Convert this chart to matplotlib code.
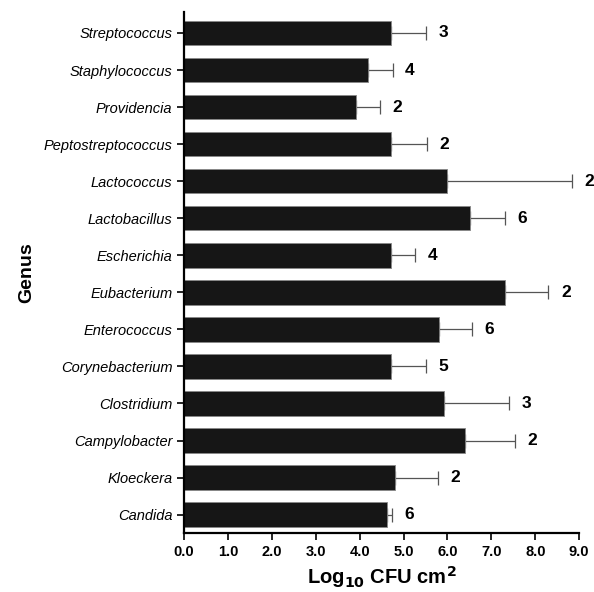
import matplotlib.pyplot as plt
import numpy as np

plt.rcParams['font.family'] = ['Liberation Sans', 'DejaVu Sans']

# Genera, top to bottom as in the figure
genus = ['Streptococcus', 'Staphylococcus', 'Providencia', 'Peptostreptococcus',
         'Lactococcus', 'Lactobacillus', 'Escherichia', 'Eubacterium',
         'Enterococcus', 'Corynebacterium', 'Clostridium', 'Campylobacter',
         'Kloeckera', 'Candida']
mean_log = [4.71, 4.20, 3.91, 4.71, 6.00, 6.51, 4.71, 7.30, 5.81, 4.71, 5.91, 6.40, 4.81, 4.62]
sd_log = [0.80, 0.55, 0.56, 0.83, 2.83, 0.80, 0.55, 1.00, 0.74, 0.79, 1.49, 1.13, 0.98, 0.11]
n_samples = [3, 4, 2, 2, 2, 6, 4, 2, 6, 5, 3, 2, 2, 6]

fig, ax = plt.subplots(figsize=(5.94, 5.92), dpi=100)
fig.subplots_adjust(left=0.31, right=0.975, top=0.98, bottom=0.1)

y = np.arange(len(genus))[::-1]
ax.errorbar(mean_log, y, xerr=[np.zeros(len(sd_log)), sd_log], fmt='none',
            ecolor='#555555', elinewidth=0.9, capsize=5, capthick=0.9, zorder=1)
ax.barh(y, mean_log, height=0.66, color='#161616', edgecolor='#888888',
        linewidth=0.6, zorder=2)

for yi, m, s, n in zip(y, mean_log, sd_log, n_samples):
    ax.annotate(str(n), (m + s, yi), xytext=(9, 0), textcoords='offset points',
                va='center', ha='left', fontsize=12.5, fontweight='bold',
                annotation_clip=False)

ax.set_xlim(0, 9)
ax.set_ylim(-0.49, len(genus) - 0.43)
ax.set_xticks(np.arange(0, 9.5, 1.0))
ax.set_xticklabels([f'{v:.1f}' for v in np.arange(0, 9.5, 1.0)], fontweight='bold', fontsize=10.5)
ax.set_yticks(y)
ax.set_yticklabels(genus, fontstyle='italic', fontsize=10.5)

for side in ['top', 'right']:
    ax.spines[side].set_visible(False)
for side in ['left', 'bottom']:
    ax.spines[side].set_linewidth(1.6)
ax.tick_params(axis='both', direction='out', width=1.2, length=5)

ax.set_ylabel('Genus', fontsize=14, fontweight='bold', labelpad=6)
ax.set_xlabel(r'Log$_{\mathbf{10}}$ CFU cm$^{\mathbf{2}}$', fontsize=14.5, fontweight='bold', labelpad=4)

plt.savefig('out.png', dpi=100)
